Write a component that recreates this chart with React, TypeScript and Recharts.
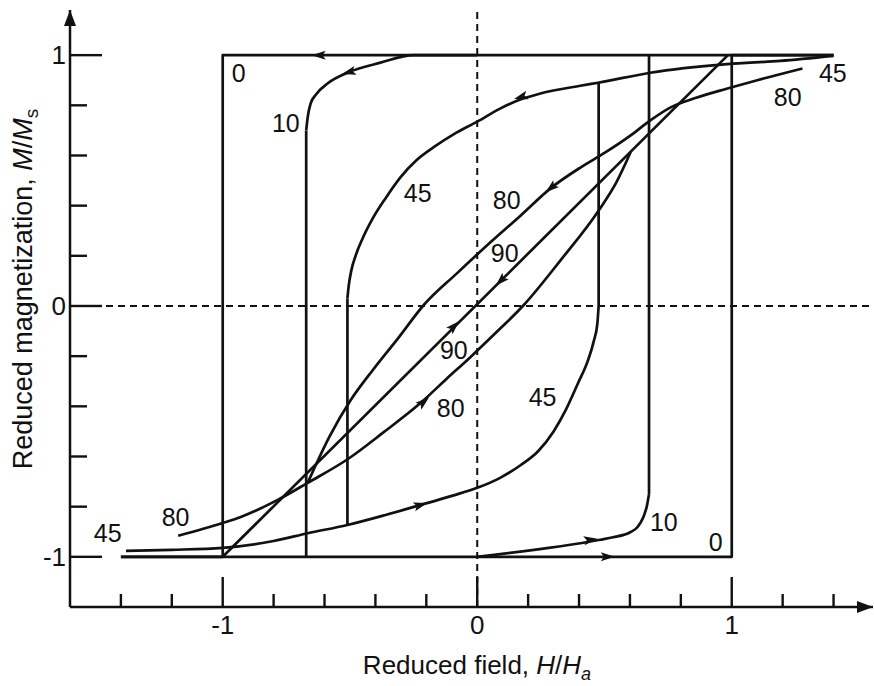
import React from 'react'
import { LineChart, Line, XAxis, YAxis, ReferenceLine, ReferenceDot } from 'recharts'

const FONT = '"Liberation Sans", Arial, Helvetica, sans-serif'
const INK = '#111'

// axis ticks (reduced field H/Ha, reduced magnetization M/Ms)
const xTicks = [-1.4, -1.2, -1, -0.8, -0.6, -0.4, -0.2, 0, 0.2, 0.4, 0.6, 0.8, 1, 1.2, 1.4]
const yTicks = [-1, -0.8, -0.6, -0.4, -0.2, 0, 0.2, 0.4, 0.6, 0.8, 1]
const labelledTicks = [-1, 0, 1]

// psi = 0 : square loop
const zeroUp = [[-1.4, -1], [1, -1], [1, 1], [1.4, 1]]
const zeroDown = [[1.4, 1], [-1, 1], [-1, -1], [-1.4, -1]]

// psi = 10
const tenDown = [[0, 1], [-0.25, 1], [-0.38, 0.97], [-0.505, 0.932], [-0.587, 0.888], [-0.635, 0.841],
  [-0.654, 0.809], [-0.666, 0.753], [-0.672, 0.7], [-0.672, -1]]
const tenUp = [[0, -1], [0.483, -0.932], [0.534, -0.922], [0.601, -0.902], [0.629, -0.882], [0.652, -0.843],
  [0.667, -0.795], [0.675, -0.75], [0.675, 1]]

// psi = 45
const fortyFiveDown = [[1.4, 0.997], [1.19, 0.977], [0.982, 0.964], [0.68, 0.93], [0.475, 0.89], [0.405, 0.878],
  [0.248, 0.847], [0.169, 0.823], [0.09, 0.787], [0, 0.735], [-0.09, 0.686], [-0.171, 0.633], [-0.24, 0.58],
  [-0.301, 0.514], [-0.36, 0.43], [-0.41, 0.35], [-0.45, 0.27], [-0.478, 0.2], [-0.495, 0.14], [-0.505, 0.08],
  [-0.51, 0.03], [-0.51, -0.873]]
const fortyFiveUp = [[-1.38, -0.976], [-1.2, -0.972], [-1, -0.964], [-0.8, -0.937], [-0.666, -0.906],
  [-0.51, -0.873], [-0.36, -0.833], [-0.222, -0.793], [-0.1, -0.757], [0, -0.725], [0.09, -0.685],
  [0.17, -0.635], [0.24, -0.578], [0.3, -0.5], [0.35, -0.41], [0.395, -0.31], [0.434, -0.22], [0.458, -0.14],
  [0.472, -0.07], [0.477, 0], [0.477, 0.89]]

// psi = 80
const eightyDown = [[1.278, 0.947], [1.1, 0.9], [0.983, 0.867], [0.86, 0.83], [0.76, 0.792], [0.68, 0.74],
  [0.603, 0.68], [0.5, 0.61], [0.407, 0.553], [0.289, 0.47], [0.17, 0.36], [0.053, 0.255], [-0.08, 0.13],
  [-0.21, 0.004], [-0.312, -0.13], [-0.41, -0.255], [-0.497, -0.375], [-0.58, -0.52], [-0.666, -0.705]]
const eightyUp = [[-1.175, -0.916], [-1, -0.865], [-0.929, -0.841], [-0.784, -0.773], [-0.666, -0.705],
  [-0.508, -0.61], [-0.37, -0.505], [-0.222, -0.386], [-0.12, -0.29], [-0.026, -0.203], [0.08, -0.1],
  [0.183, 0.004], [0.328, 0.183], [0.48, 0.385], [0.545, 0.49], [0.603, 0.614]]

// psi = 90
const ninety = [[-1, -1], [0.985, 1]]

const curveLabels = [
  { x: -0.937, y: 0.928, text: '0' },
  { x: -0.752, y: 0.729, text: '10' },
  { x: -0.234, y: 0.45, text: '45' },
  { x: 0.116, y: 0.422, text: '80' },
  { x: 0.108, y: 0.211, text: '90' },
  { x: -0.092, y: -0.175, text: '90' },
  { x: -0.104, y: -0.406, text: '80' },
  { x: 0.257, y: -0.363, text: '45' },
  { x: 0.733, y: -0.861, text: '10' },
  { x: 0.937, y: -0.94, text: '0' },
  { x: 1.397, y: 0.928, text: '45' },
  { x: 1.22, y: 0.833, text: '80' },
  { x: -1.185, y: -0.841, text: '80' },
  { x: -1.452, y: -0.904, text: '45' },
]

// direction arrows along the branches (angle in screen degrees)
const curveArrows = [
  { x: -0.623, y: 1, angle: 180 },
  { x: 0.513, y: -1, angle: 0 },
  { x: -0.505, y: 0.932, angle: 165 },
  { x: 0.446, y: -0.932, angle: -8 },
  { x: 0.171, y: 0.833, angle: 163 },
  { x: -0.222, y: -0.793, angle: -16 },
  { x: 0.289, y: 0.47, angle: 140 },
  { x: -0.21, y: -0.382, angle: -40 },
  { x: 0.092, y: 0.1, angle: 135 },
  { x: -0.09, y: -0.08, angle: -45 },
]

type Pt = { x: number; y: number }
const toPts = (a: number[][]): Pt[] => a.map(([x, y]) => ({ x, y }))

// a smooth branch ends with a vertical jump; draw the curved part monotone, the jump straight
function splitBranch(a: number[][]) {
  const n = a.length
  const hasJump = a[n - 1][0] === a[n - 2][0]
  const smooth = hasJump ? a.slice(0, n - 1) : a
  const parts: { data: Pt[]; type: 'monotone' | 'linear' }[] = [
    { data: toPts([...smooth].sort((p, q) => p[0] - q[0])), type: 'monotone' },
  ]
  if (hasJump) parts.push({ data: toPts(a.slice(n - 2)), type: 'linear' })
  return parts
}

const curves = [
  { data: toPts(zeroUp), type: 'linear' as const },
  { data: toPts(zeroDown), type: 'linear' as const },
  { data: toPts(ninety), type: 'linear' as const },
  ...[tenDown, tenUp, fortyFiveDown, fortyFiveUp, eightyDown, eightyUp].flatMap(splitBranch),
]

const X_DOMAIN: [number, number] = [-1.6, 1.555]
const Y_DOMAIN: [number, number] = [-1.2, 1.18]

function XTick(props: any) {
  const { x, y, payload } = props
  const v = payload.value
  const major = labelledTicks.includes(v)
  return (
    <g>
      <line x1={x} x2={x} y1={y} y2={y - (major ? 30 : 13)} stroke={INK} strokeWidth={2.4} />
      {major && (
        <text x={x} y={y + 27} textAnchor="middle" fontSize={26} fill={INK} fontFamily={FONT}>
          {String(v)}
        </text>
      )}
    </g>
  )
}

function YTick(props: any) {
  const { x, y, payload } = props
  const v = payload.value
  const major = labelledTicks.includes(v)
  return (
    <g>
      <line x1={x} x2={x + (major ? 32 : 17)} y1={y} y2={y} stroke={INK} strokeWidth={2.4} />
      {major && (
        <text x={x - 4} y={y + 9} textAnchor="end" fontSize={26} fill={INK} fontFamily={FONT}>
          {String(v)}
        </text>
      )}
    </g>
  )
}

function XTitle() {
  return (
    <text x={477} y={674} textAnchor="middle" fontSize={26} fill={INK} fontFamily={FONT}>
      Reduced field, <tspan fontStyle="italic">H</tspan>/<tspan fontStyle="italic">H</tspan>
      <tspan fontStyle="italic" fontSize={18} dy={6}>a</tspan>
    </text>
  )
}

function YTitle() {
  return (
    <text x={32} y={289} transform="rotate(-90, 32, 289)" textAnchor="middle" fontSize={27} fill={INK} fontFamily={FONT}>
      Reduced magnetization, <tspan fontStyle="italic">M</tspan>/<tspan fontStyle="italic">M</tspan>
      <tspan fontSize={19} dy={6}>s</tspan>
    </text>
  )
}

function Arrowhead({ cx, cy, angle }: any) {
  return <path d="M7,0 L-7,-4.5 L-4,0 L-7,4.5 Z" transform={`translate(${cx},${cy}) rotate(${angle})`} fill={INK} />
}

function CurveText({ cx, cy, text }: any) {
  return (
    <text x={cx} y={cy} textAnchor="middle" dominantBaseline="central" fontSize={25} fill={INK} fontFamily={FONT}>
      {text}
    </text>
  )
}

export default function App() {
  return (
    <div style={{ position: 'absolute', left: 0, top: 0, background: '#fff' }}>
      <LineChart width={874} height={686} margin={{ top: 10, right: 1, bottom: 0, left: 0 }}>
        <XAxis
          type="number"
          dataKey="x"
          domain={X_DOMAIN}
          ticks={xTicks}
          interval={0}
          height={79}
          tickSize={0}
          tickMargin={0}
          tickLine={false}
          axisLine={{ stroke: INK, strokeWidth: 2.5 }}
          tick={<XTick />}
          label={{ content: () => <XTitle /> }}
          allowDataOverflow
        />
        <YAxis
          type="number"
          dataKey="y"
          domain={Y_DOMAIN}
          ticks={yTicks}
          interval={0}
          width={70}
          tickSize={0}
          tickMargin={0}
          tickLine={false}
          axisLine={{ stroke: INK, strokeWidth: 2.5 }}
          tick={<YTick />}
          label={{ content: () => <YTitle /> }}
          allowDataOverflow
        />
        <ReferenceLine x={0} stroke={INK} strokeWidth={2} strokeDasharray="7 5" />
        <ReferenceLine y={0} stroke={INK} strokeWidth={2} strokeDasharray="7 5" />
        {curves.map((c, i) => (
          <Line
            key={i}
            data={c.data}
            dataKey="y"
            type={c.type}
            stroke={INK}
            strokeWidth={2.7}
            strokeLinejoin="round"
            dot={false}
            activeDot={false}
            isAnimationActive={false}
          />
        ))}
        {curveArrows.map((a, i) => (
          <ReferenceDot
            key={`a${i}`}
            x={a.x}
            y={a.y}
            r={0}
            ifOverflow="visible"
            shape={(p: any) => <Arrowhead cx={p.cx} cy={p.cy} angle={a.angle} />}
          />
        ))}
        {curveLabels.map((l, i) => (
          <ReferenceDot
            key={`l${i}`}
            x={l.x}
            y={l.y}
            r={0}
            ifOverflow="visible"
            shape={(p: any) => <CurveText cx={p.cx} cy={p.cy} text={l.text} />}
          />
        ))}
        <ReferenceDot
          x={X_DOMAIN[1]}
          y={Y_DOMAIN[0]}
          r={0}
          ifOverflow="visible"
          shape={(p: any) => <path d={`M${p.cx},${p.cy} l-16,-6 l0,12 Z`} fill={INK} />}
        />
        <ReferenceDot
          x={X_DOMAIN[0]}
          y={Y_DOMAIN[1]}
          r={0}
          ifOverflow="visible"
          shape={(p: any) => <path d={`M${p.cx},${p.cy} l-6,16 l12,0 Z`} fill={INK} />}
        />
      </LineChart>
    </div>
  )
}
